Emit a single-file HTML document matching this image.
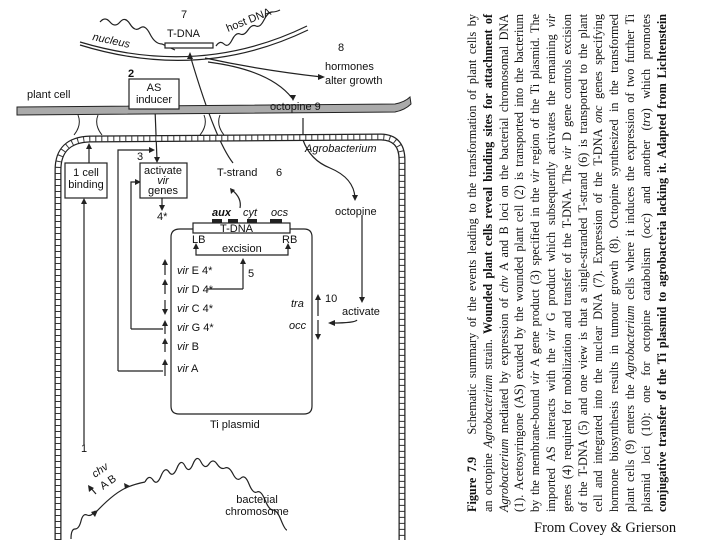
<!DOCTYPE html>
<html><head><meta charset="utf-8"><style>
html,body{margin:0;padding:0;background:#fff;}
body{width:720px;height:540px;position:relative;overflow:hidden;}
svg{position:absolute;left:0;top:0;}
svg text{font-family:"Liberation Sans",sans-serif;font-size:11px;fill:#111;}
.cap{position:absolute;left:465px;top:512px;width:498px;height:210px;transform-origin:0 0;transform:rotate(-90deg);font-family:"Liberation Serif",serif;font-size:12.2px;color:#111;}
.cap div{height:15.8px;line-height:15.8px;white-space:nowrap;text-align:justify;text-align-last:justify;}
.src{position:absolute;left:534px;top:520px;font-family:"Liberation Serif",serif;font-size:14.5px;color:#111;}
</style></head><body>
<svg width="720" height="540" viewBox="0 0 720 540">
<g fill="none" stroke="#222" stroke-width="1.2">
<path d="M80,42 Q200,78 307,26"/>
<path d="M80,45 Q200,82 308,30"/>
<path d="M100,22 q5,-6 10,0 t10,0 t10,2 t10,4 t10,6 t12,10 l13,6" />
<path d="M216,46 q4,-6 8,-2 t8,-4 t8,-6 t8,-4 t8,-4 t8,-6 t8,-8 t8,-2"/>
<path d="M233,163 Q215,140 190,55"/>
<path d="M205,58 Q260,70 322,77"/>
<path d="M208,62 Q270,70 292,98"/>
<path d="M155,109 L157,160"/>
<path d="M89,163 L89,146"/>
<path d="M84,445 L84,200"/>
<path d="M118,371 L118,150 L152,150"/>
<path d="M118,371 L163,371"/>
<path d="M131,329 L131,182 L138,182"/>
<path d="M131,329 L163,329"/>
<path d="M162,198 L162,208"/>
<path d="M240,208 Q242,198 232,190"/>
<path d="M180,229 L304,229 Q312,229 312,237 L312,406 Q312,414 304,414 L179,414 Q171,414 171,406 L171,237 Q171,229 180,229"/>
<path d="M196,246 L196,255 L288,255 L288,246"/>
<path d="M243,289 L243,262"/>
<path d="M207,289 L243,289"/>
<path d="M165,262 L165,275 M165,282 L165,294 M165,300 L165,312 M165,322 L165,334 M165,340 L165,352 M165,362 L165,376"/>
<path d="M318,298 L318,316 M318,320 L318,336"/>
<path d="M357,320 Q355,323 332,323"/>
<path d="M362,215 L362,300"/>
<path d="M303,118 L303,140 Q310,160 330,168 Q354,178 355,198"/>
<path d="M97,511 Q115,492 128,487 Q135,484 145,482"/>
<path d="M96,494 L90,487"/>
<path d="M145,482 q4,-8 8,-2 t8,-4 t8,-4 t8,-4 t8,-2 t8,-2 t8,-2 t8,2 t8,0 t8,4 t8,6 t8,4 t8,6 t8,8 t8,8 t8,10 t8,10 t6,10"/>
<path d="M95,511 q-4,6 -8,4 t-6,6 t-6,8 t-4,10"/>
</g>
<g fill="#222">
<path d="M190,52 l-3,7 h6z"/>
<path d="M325,77 l-7,-3 l0,6z"/>
<path d="M293,101 l-3,-6 l6,0z"/>
<path d="M157,163 l-3,-6 h6z"/>
<path d="M89,143 l-3,6 h6z"/>
<path d="M84,198 l-3,6 h6z"/>
<path d="M155,150 l-6,-3 v6z"/>
<path d="M141,182 l-6,-3 v6z"/>
<path d="M162,211 l-3,-6 h6z"/>
<path d="M230,188 l1,6 l4,-4z"/>
<path d="M196,243 l-3,6 h6z M288,243 l-3,6 h6z M243,258 l-3,6 h6z"/>
<path d="M165,259 l-3,6 h6z M165,279 l-3,6 h6z M165,315 l-3,-6 h6z M165,320 l-3,6 h6z M165,338 l-3,6 h6z M165,359 l-3,6 h6z"/>
<path d="M318,294 l-3,6 h6z M318,340 l-3,-6 h6z"/>
<path d="M328,323 l7,-3 v6z"/>
<path d="M362,303 l-3,-6 h6z"/>
<path d="M355,201 l-3,-6 h6z"/>
<path d="M88,485 l1,7 l5,-4z"/>
<path d="M98,510 l-7,2 l4,5z"/>
<path d="M130,486 l-6,-3 l1,6z"/>
</g>
<rect x="165" y="43" width="48" height="5" fill="#fff" stroke="#222" stroke-width="1.2"/>
<path d="M17,107 L395,104 Q405,102 410,97 L411,104 Q405,110 395,112 L17,115z" fill="#aaa" stroke="#222" stroke-width="1"/>
<g fill="none" stroke="#222" stroke-width="1">
<path d="M78,115 q4,10 -4,20 M98,115 q-4,10 4,20 M204,115 q4,10 -4,20 M220,115 q-4,10 4,20"/>
</g>
<path d="M58,540 L58,170 Q58,140 90,139 L380,137 Q402,137 402,160 L402,540" fill="none" stroke="#222" stroke-width="7"/>
<path d="M58,540 L58,170 Q58,140 90,139 L380,137 Q402,137 402,160 L402,540" fill="none" stroke="#fff" stroke-width="4.5"/>
<path d="M58,540 L58,170 Q58,140 90,139 L380,137 Q402,137 402,160 L402,540" fill="none" stroke="#333" stroke-width="5" stroke-dasharray="1 5"/>
<rect x="129" y="79" width="50" height="30" fill="#fff" stroke="#222" stroke-width="1.2"/>
<rect x="65" y="163" width="42" height="35" fill="#fff" stroke="#222" stroke-width="1.2"/>
<rect x="140" y="163" width="47" height="35" fill="#fff" stroke="#222" stroke-width="1.2"/>
<rect x="193" y="223" width="97" height="10" fill="#fff" stroke="#222" stroke-width="1.2"/>
<rect x="212" y="219" width="10" height="4" fill="#222"/>
<rect x="228" y="219" width="10" height="4" fill="#222"/>
<rect x="247" y="219" width="10" height="4" fill="#222"/>
<rect x="270" y="219" width="12" height="4" fill="#222"/>
<text x="181" y="18">7</text>
<text x="167" y="37" font-size="11.5">T-DNA</text>
<text x="228" y="32" font-size="10.5" transform="rotate(-22 228 32)">host DNA</text>
<text x="92" y="40" font-size="10.5" font-style="italic" transform="rotate(12 92 40)">nucleus</text>
<text x="338" y="51">8</text>
<text x="325" y="70" font-size="10.5">hormones</text>
<text x="325" y="84" font-size="10.5">alter growth</text>
<text x="128" y="77" font-weight="bold">2</text>
<text x="154" y="91" text-anchor="middle" font-size="10.5">AS</text>
<text x="154" y="103" text-anchor="middle" font-size="10.5">inducer</text>
<text x="27" y="98" font-size="10.5">plant cell</text>
<text x="270" y="110" font-size="10.5">octopine 9</text>
<text x="305" y="152" font-size="10.5" font-style="italic">Agrobacterium</text>
<text x="86" y="176" text-anchor="middle" font-size="10">1 cell</text>
<text x="86" y="188" text-anchor="middle" font-size="10">binding</text>
<text x="137" y="160">3</text>
<text x="163" y="174" text-anchor="middle" font-size="9.5">activate</text>
<text x="163" y="184" text-anchor="middle" font-size="9.5" font-style="italic">vir</text>
<text x="163" y="194" text-anchor="middle" font-size="9.5">genes</text>
<text x="157" y="220" font-size="9.5">4*</text>
<text x="217" y="176" font-size="10.5">T-strand</text>
<text x="276" y="176" font-size="10.5">6</text>
<text x="212" y="216" font-size="9.5" font-style="italic" font-weight="bold">aux</text>
<text x="243" y="216" font-size="9.5" font-style="italic">cyt</text>
<text x="271" y="216" font-size="9.5" font-style="italic">ocs</text>
<text x="220" y="232" font-size="10">T-DNA</text>
<text x="192" y="243" font-size="9.5">LB</text>
<text x="282" y="243" font-size="9.5">RB</text>
<text x="222" y="252" font-size="9.5">excision</text>
<text x="248" y="277" font-size="10">5</text>
<g font-size="9.5"><text x="177" y="274"><tspan font-style="italic">vir</tspan> E  4*</text>
<text x="177" y="293"><tspan font-style="italic">vir</tspan> D  4*</text>
<text x="177" y="312"><tspan font-style="italic">vir</tspan> C  4*</text>
<text x="177" y="331"><tspan font-style="italic">vir</tspan> G  4*</text>
<text x="177" y="350"><tspan font-style="italic">vir</tspan> B</text>
<text x="177" y="372"><tspan font-style="italic">vir</tspan> A</text></g>
<text x="291" y="307" font-size="9.5" font-style="italic">tra</text>
<text x="289" y="329" font-size="9.5" font-style="italic">occ</text>
<text x="325" y="302" font-size="10.5">10</text>
<text x="342" y="315" font-size="10">activate</text>
<text x="335" y="215" font-size="10">octopine</text>
<text x="210" y="428" font-size="10">Ti plasmid</text>
<text x="81" y="452" font-size="10">1</text>
<text x="95" y="478" font-size="9" font-style="italic" transform="rotate(-35 95 478)">chv</text>
<text x="103" y="490" font-size="9.5" transform="rotate(-35 103 490)">A  B</text>
<text x="257" y="503" text-anchor="middle" font-size="10">bacterial</text>
<text x="257" y="515" text-anchor="middle" font-size="10">chromosome</text>
</svg>
<div class="cap">
<div><b>Figure 7.9</b>&nbsp;&nbsp;&nbsp; Schematic summary of the events leading to the transformation of plant cells by</div>
<div>an octopine <i>Agrobacterium</i> strain. <b>Wounded plant cells reveal binding sites for attachment of</b></div>
<div><i>Agrobacterium</i> mediated by expression of <i>chv</i> A and B loci on the bacterial chromosomal DNA</div>
<div>(1). Acetosyringone (AS) exuded by the wounded plant cell (2) is transported into the bacterium</div>
<div>by the membrane-bound <i>vir</i> A gene product (3) specified in the <i>vir</i> region of the Ti plasmid. The</div>
<div>imported AS interacts with the <i>vir</i> G product which subsequently activates the remaining <i>vir</i></div>
<div>genes (4) required for mobilization and transfer of the T-DNA. The <i>vir</i> D gene controls excision</div>
<div>of the T-DNA (5) and one view is that a single-stranded T-strand (6) is transported to the plant</div>
<div>cell and integrated into the nuclear DNA (7). Expression of the T-DNA <i>onc</i> genes specifying</div>
<div>hormone biosynthesis results in tumour growth (8). Octopine synthesized in the transformed</div>
<div>plant cells (9) enters the <i>Agrobacterium</i> cells where it induces the expression of two further Ti</div>
<div>plasmid loci (10): one for octopine catabolism (<i>occ</i>) and another (<i>tra</i>) which promotes</div>
<div><b>conjugative transfer of the Ti plasmid to agrobacteria lacking it. Adapted from Lichtenstein</b></div>
</div>
<div class="src">From Covey &amp; Grierson</div>
</body></html>
